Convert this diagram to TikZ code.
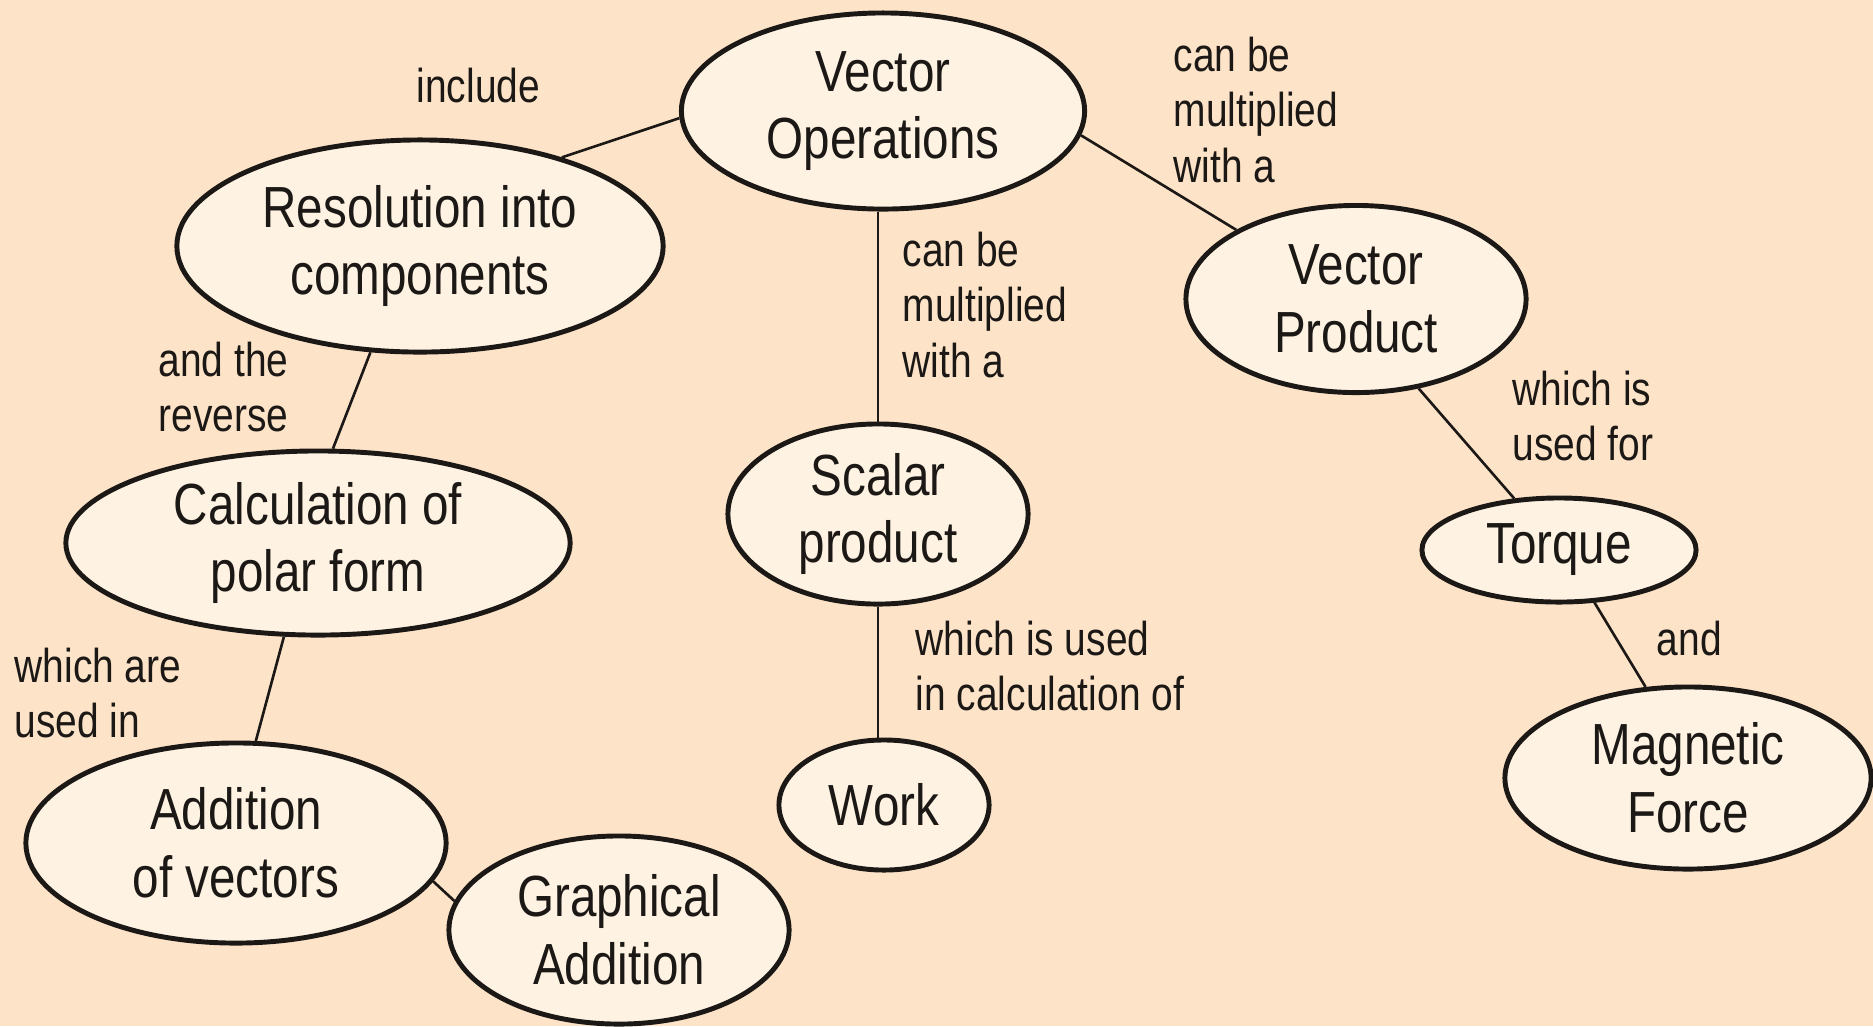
\documentclass[tikz,border=0pt]{standalone}
\usepackage{fontspec}
\setmainfont{Liberation Sans}[FakeStretch=0.82]
\usetikzlibrary{shapes.geometric}
\definecolor{peach}{RGB}{253,228,201}
\definecolor{cream}{RGB}{254,243,227}
\definecolor{ink}{RGB}{28,24,22}

\begin{document}
\begin{tikzpicture}[x=0.01cm, y=-0.01cm,
    concept/.style={ellipse, draw=ink, line width=1.4pt, fill=cream, inner sep=0pt, align=center, text=ink, font=\fontsize{16.5}{19.3}\selectfont},
    link/.style={draw=ink, line width=0.75pt},
    linklabel/.style={anchor=west, align=left, inner sep=0pt, text=ink, font=\fontsize{13.5}{15.7}\selectfont}]
    % Background
    \fill[peach] (0,0) rectangle (1873,1026);
    \useasboundingbox (0,0) rectangle (1873,1026);

    % Concepts
    \node[concept, minimum width=4.03cm, minimum height=1.96cm] (ops) at (883,111) {Vector\\Operations};
    \node[concept, minimum width=4.86cm, minimum height=2.12cm] (res) at (420,246) {Resolution into\\components};
    \node[concept, minimum width=5.04cm, minimum height=1.84cm] (calc) at (318,543) {Calculation of\\polar form};
    \node[concept, minimum width=4.2cm, minimum height=2.0cm] (add) at (236,843) {Addition\\of vectors};
    \node[concept, minimum width=3.4cm, minimum height=1.88cm] (graph) at (619,930) {Graphical\\Addition};
    \node[concept, minimum width=3.0cm, minimum height=1.8cm] (scal) at (878,514) {Scalar\\product};
    \node[concept, minimum width=2.1cm, minimum height=1.3cm] (work) at (884,805) {Work};
    \node[concept, minimum width=3.4cm, minimum height=1.87cm] (vprod) at (1356,299) {Vector\\Product};
    \node[concept, minimum width=2.74cm, minimum height=1.04cm] (torque) at (1559,550) {Torque};
    \node[concept, minimum width=3.66cm, minimum height=1.82cm] (mag) at (1688,778) {Magnetic\\Force};

    % Links between concepts
    \draw[link] (ops.182) -- (res.32);
    \draw[link] (scal.north |- ops.south) -- (scal.north);
    \draw[link] (ops.-7) -- (vprod.150);
    \draw[link] (res.245) -- (calc.81);
    \draw[link] (calc.250) -- (add.79);
    \draw[link] (add.349) -- (graph.170);
    \draw[link] (scal.south) -- (scal.south |- work.north);
    \draw[link] (vprod.305) -- (torque.131);
    \draw[link] (torque.304) -- (mag.115);

    % Link labels
    \node[linklabel] (l-include) at (416,86) {include};
    \node[linklabel] (l-vprod) at (1173,110) {can be\\multiplied\\with a};
    \node[linklabel] (l-scal) at (902,305) {can be\\multiplied\\with a};
    \node[linklabel] (l-reverse) at (158,387) {and the\\reverse};
    \node[linklabel] (l-torque) at (1512,416) {which is\\used for};
    \node[linklabel] (l-usedin) at (14,693) {which are\\used in};
    \node[linklabel] (l-work) at (915,666) {which is used\\in calculation of};
    \node[linklabel] (l-and) at (1656,639) {and};
\end{tikzpicture}
\end{document}
